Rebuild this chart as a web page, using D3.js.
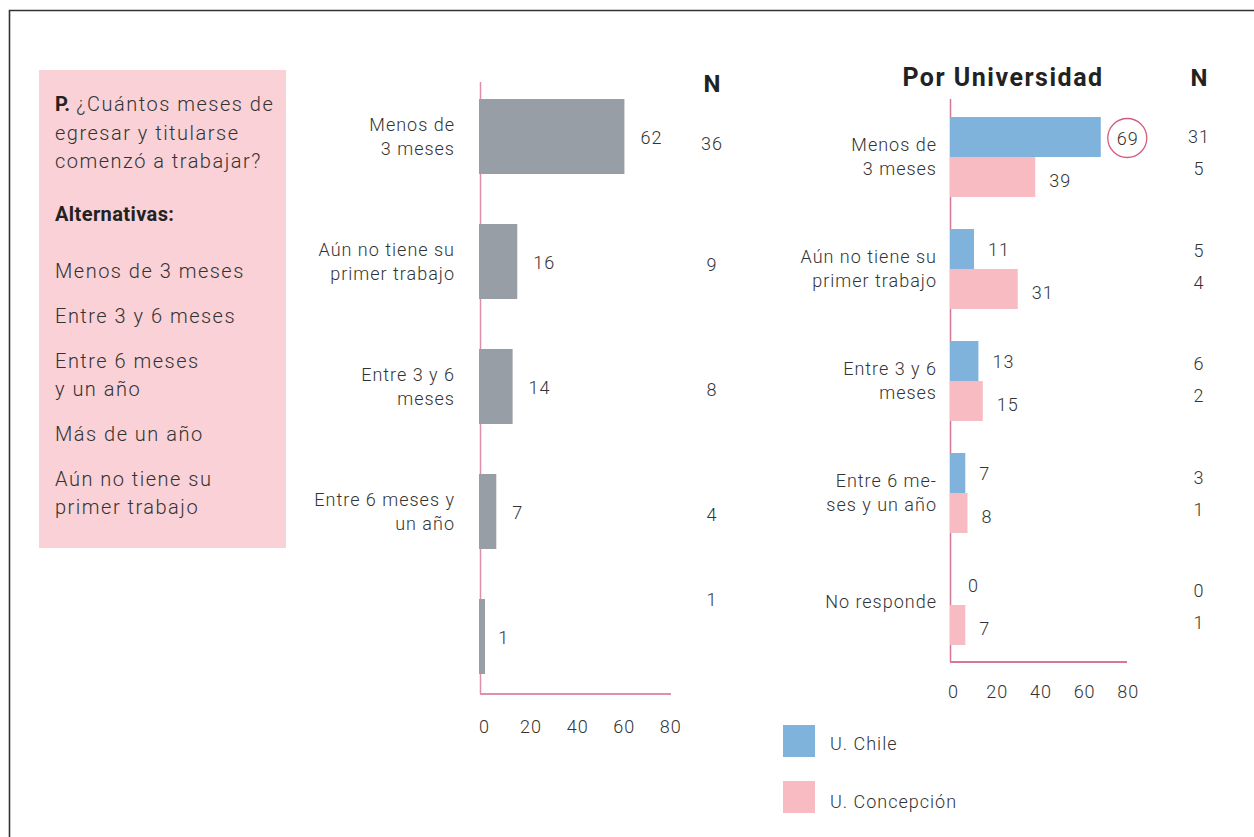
<!DOCTYPE html>
<html><head><meta charset="utf-8">
<script src="https://cdn.jsdelivr.net/npm/d3@7"></script>
<style>
body{margin:0;background:#fff;}
text{font-family:Roboto,"DejaVu Sans",sans-serif;fill:#333;font-weight:300;letter-spacing:1px;}
text.b, tspan.b{font-weight:700;fill:#222;}
</style></head>
<body>
<script>
// ---- data ----
const totalCategories = [["Menos de","3 meses"],["Aún no tiene su","primer trabajo"],["Entre 3 y 6","meses"],["Entre 6 meses y","un año"],[""]];
const totalValues = [62,16,14,7,1];
const totalN = [36,9,8,4,1];

const uniCategories = [["Menos de","3 meses"],["Aún no tiene su","primer trabajo"],["Entre 3 y 6","meses"],["Entre 6 me-","ses y un año"],["No responde"]];
const seriesNames = ["U. Chile","U. Concepción"];
const chileValues = [69,11,13,7,0];
const concepValues = [39,31,15,8,7];
const chileN = [31,5,6,3,0];
const concepN = [5,4,2,1,1];

const tickValues = [0,20,40,60,80];

const questionLines = [{t:"¿Cuántos meses de",b:"P."},{t:"egresar y titularse"},{t:"comenzó a trabajar?"}];
const alternativesTitle = "Alternativas:";
const alternatives = [["Menos de 3 meses"],["Entre 3 y 6 meses"],["Entre 6 meses","y un año"],["Más de un año"],["Aún no tiene su","primer trabajo"]];

// ---- style ----
const W=1254,H=837;
const grey="#979ea5", blue="#80b3db", pink="#f7bbc1", axisPink="#df8fa9", circ="#d45d7e", boxFill="#f9d1d6";

const svg=d3.select("body").append("svg").attr("width",W).attr("height",H);

// frame
svg.append("path").attr("d",`M9.5,${H+2}V10.5H${W+2}`).attr("fill","none").attr("stroke","#333").attr("stroke-width",1.6);

// question box
svg.append("rect").attr("x",39).attr("y",70).attr("width",247).attr("height",478).attr("fill",boxFill);
const q=svg.append("g").attr("font-size",20);
const qy=[104,133,161];
questionLines.forEach((l,i)=>{
  const t=q.append("text").attr("x",55).attr("y",qy[i]+7).style("letter-spacing","1.5px");
  if(l.b){ t.append("tspan").attr("class","b").style("letter-spacing","0px").text(l.b); t.append("tspan").text(" "+l.t); }
  else t.text(l.t);
});
q.append("text").attr("class","b").attr("x",55).attr("y",221).style("letter-spacing","0.4px").text(alternativesTitle);
let ay=271;
alternatives.forEach(a=>{
  a.forEach((line,j)=>{
    q.append("text").attr("x",55).attr("y",ay+7+j*28).style("letter-spacing","1.5px").text(line);
  });
  ay+=45+(a.length-1)*28;
});

// ---- left chart ----
const L={x0:480,x1:671,y0:82,y1:694};
const xL=d3.scaleLinear().domain([0,82]).range([L.x0,L.x1]);
const yL=d3.scaleBand().domain(d3.range(totalValues.length)).range([74,74+125*5]).paddingInner(50/125).paddingOuter(25/125);
const gL=svg.append("g");
gL.append("line").attr("x1",L.x0+0.5).attr("x2",L.x0+0.5).attr("y1",L.y0).attr("y2",L.y1).attr("stroke",axisPink).attr("stroke-width",1.5);
gL.append("line").attr("x1",L.x0).attr("x2",L.x1).attr("y1",L.y1).attr("y2",L.y1).attr("stroke",axisPink).attr("stroke-width",2);
gL.selectAll("rect").data(totalValues).join("rect")
  .attr("x",xL(0)-1).attr("y",(d,i)=>yL(i)).attr("width",d=>Math.max(6,xL(d)-xL(0)+1)).attr("height",yL.bandwidth()).attr("fill",grey);
gL.selectAll("text.val").data(totalValues).join("text").attr("class","val")
  .attr("x",d=>xL(d)+16).attr("y",(d,i)=>yL(i)+yL.bandwidth()/2+7).attr("font-size",18).text(d=>d);
gL.selectAll("text.n").data(totalN).join("text").attr("class","n")
  .attr("x",712).attr("text-anchor","middle").attr("font-size",18)
  .attr("y",(d,i)=>i===totalN.length-1? yL(i)+7 : yL(i)+yL.bandwidth()/2+(i===0?13:9)).text(d=>d);
gL.append("text").attr("class","b").attr("x",712).attr("y",92).attr("text-anchor","middle").attr("font-size",24).style("letter-spacing","0px").text("N");
totalCategories.forEach((c,i)=>{
  const cy=yL(i)+yL.bandwidth()/2;
  c.forEach((line,j)=>{
    gL.append("text").attr("x",455).attr("text-anchor","end").attr("font-size",18)
      .attr("y",cy-12+j*24+(c.length===1?12:0)+6).text(line);
  });
});
const axL=gL.append("g").attr("transform",`translate(0,${L.y1})`)
  .call(d3.axisBottom(xL).tickValues(tickValues).tickSize(0).tickPadding(26));
axL.select(".domain").remove();
axL.selectAll("text").attr("font-size",18).attr("font-family",null).attr("fill",null).attr("dx",4);

// ---- right chart ----
const R={x0:950,x1:1127,y0:99,y1:662};
const xR=d3.scaleLinear().domain([0,81]).range([R.x0,R.x1]);
const yR=d3.scaleBand().domain(d3.range(chileValues.length)).range([101,101+112*5]).paddingInner(32/112).paddingOuter(16/112);
const sub=d3.scaleBand().domain([0,1]).range([0,yR.bandwidth()]);
const gR=svg.append("g");
gR.append("line").attr("x1",R.x0+0.5).attr("x2",R.x0+0.5).attr("y1",R.y0).attr("y2",R.y1).attr("stroke","#d4789a").attr("stroke-width",1.5);
gR.append("line").attr("x1",R.x0).attr("x2",R.x1).attr("y1",R.y1).attr("y2",R.y1).attr("stroke","#d4789a").attr("stroke-width",2);
const pairs=chileValues.map((c,i)=>[c,concepValues[i]]);
const grp=gR.selectAll("g.grp").data(pairs).join("g").attr("class","grp").attr("transform",(d,i)=>`translate(0,${yR(i)})`);
grp.selectAll("rect").data(d=>d).join("rect")
  .attr("x",xR(0)).attr("y",(d,j)=>sub(j)).attr("width",d=>xR(d)-xR(0)).attr("height",sub.bandwidth())
  .attr("fill",(d,j)=>j===0?blue:pink);
grp.selectAll("text.val").data(d=>d).join("text").attr("class","val")
  .attr("x",d=>xR(d)+(d===0?18:14)).attr("y",(d,j)=>sub(j)+sub.bandwidth()/2+(j===0?7:10)).attr("font-size",18)
  .attr("text-anchor","start").text(d=>d);
// circle highlight on max
const maxI=d3.maxIndex(chileValues);
const cx=xR(chileValues[maxI])+26.5, cyc=yR(maxI)+sub.bandwidth()/2+1;
gR.append("circle").attr("cx",cx).attr("cy",cyc).attr("r",19.5).attr("fill","none").attr("stroke",circ).attr("stroke-width",1.3);
grp.filter((d,i)=>i===maxI).select("text.val").attr("x",cx+0.5).attr("text-anchor","middle").attr("y",sub.bandwidth()/2+8);

chileN.forEach((n,i)=>{
  const mid=yR(i)+yR.bandwidth()/2;
  const drift=i*1.5;
  gR.append("text").attr("x",1199).attr("text-anchor","middle").attr("font-size",18).attr("y",mid-21+7+drift).text(n);
  gR.append("text").attr("x",1199).attr("text-anchor","middle").attr("font-size",18).attr("y",mid+11+7+drift).text(concepN[i]);
});
gR.append("text").attr("class","b").attr("x",1199).attr("y",86).attr("text-anchor","middle").attr("font-size",24).style("letter-spacing","0px").text("N");
gR.append("text").attr("class","b").attr("x",1003).attr("y",86).attr("text-anchor","middle").attr("font-size",25).style("letter-spacing","1.5px").text("Por Universidad");
uniCategories.forEach((c,i)=>{
  const cy=yR(i)+yR.bandwidth()/2;
  c.forEach((line,j)=>{
    gR.append("text").attr("x",937).attr("text-anchor","end").attr("font-size",18)
      .attr("y",cy-12+j*24+(c.length===1?12:0)+6-(c.length===1?3:0)).text(line);
  });
});
const axR=gR.append("g").attr("transform",`translate(0,${R.y1})`)
  .call(d3.axisBottom(xR).tickValues(tickValues).tickSize(0).tickPadding(23));
axR.select(".domain").remove();
axR.selectAll("text").attr("font-size",18).attr("font-family",null).attr("fill",null).attr("dx",3);

// legend
const lg=svg.append("g");
seriesNames.forEach((s,i)=>{
  lg.append("rect").attr("x",783).attr("y",725+i*56).attr("width",32).attr("height",32).attr("fill",i===0?blue:pink);
  lg.append("text").attr("x",830).attr("y",750+i*58).attr("font-size",18).text(s);
});
</script>
</body></html>
